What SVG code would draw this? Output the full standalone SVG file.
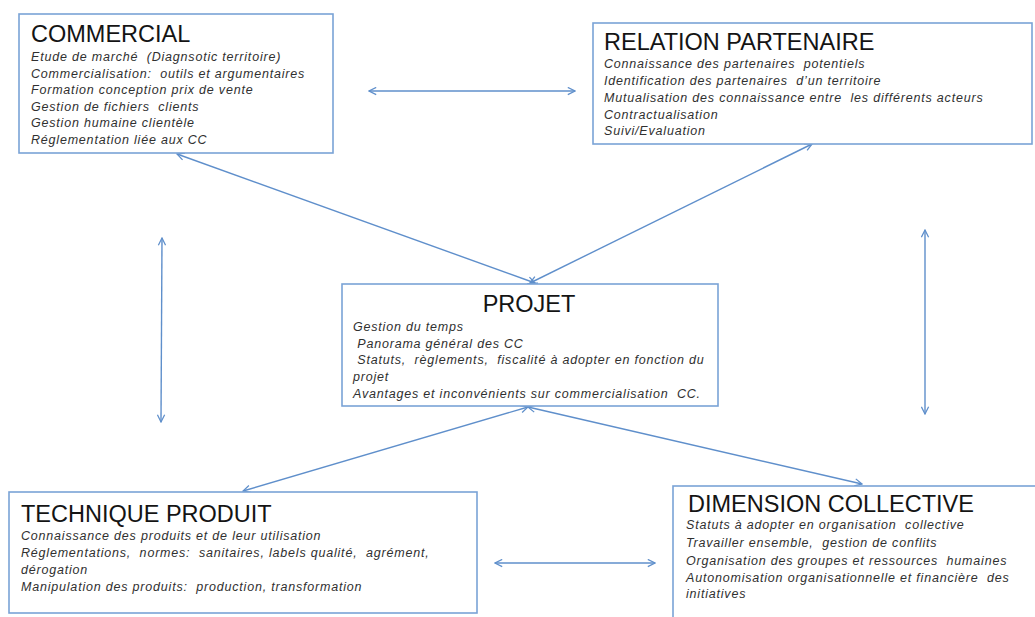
<svg xmlns="http://www.w3.org/2000/svg" width="1035" height="617" viewBox="0 0 1035 617">
<style>
.box{fill:#ffffff;stroke:#7aa3d6;stroke-width:1.6}
.title{font-family:"Liberation Sans",Arial,sans-serif;font-size:23.5px;fill:#141414}
.item{font-family:"Liberation Sans",Arial,sans-serif;font-size:12.5px;font-style:italic;fill:#303030;letter-spacing:0.8px;white-space:pre}
.conn{stroke:#5f8fcb;stroke-width:1.4;fill:none;marker-start:url(#ah);marker-end:url(#ah)}
</style>
<defs>
<marker id="ah" viewBox="0 0 10 10" refX="9" refY="5" markerWidth="9" markerHeight="9" markerUnits="userSpaceOnUse" orient="auto-start-reverse">
<path d="M1,1 L9,5 L1,9" fill="none" stroke="#5f8fcb" stroke-width="1.4"/>
</marker>
</defs>
<rect width="1035" height="617" fill="#ffffff"/>
<g id="connectors">
<line class="conn" x1="369" y1="91" x2="575" y2="91"/>
<line class="conn" x1="177" y1="154" x2="535" y2="283"/>
<line class="conn" x1="812" y1="144" x2="530" y2="283"/>
<line class="conn" x1="162" y1="238" x2="161" y2="422"/>
<line class="conn" x1="925" y1="230" x2="925" y2="414"/>
<line class="conn" x1="528" y1="407" x2="243" y2="491"/>
<line class="conn" x1="528" y1="407" x2="862" y2="484"/>
<line class="conn" x1="495" y1="563" x2="655" y2="563"/>
</g>
<g id="commercial">
<rect class="box" x="19" y="14" width="314" height="139"/>
<text class="title" x="31" y="42">COMMERCIAL</text>
<text class="item" x="31" y="61">Etude de marché  (Diagnsotic territoire)</text>
<text class="item" x="31" y="77.5">Commercialisation:  outils et argumentaires</text>
<text class="item" x="31" y="94">Formation conception prix de vente</text>
<text class="item" x="31" y="110.5">Gestion de fichiers  clients</text>
<text class="item" x="31" y="127">Gestion humaine clientèle</text>
<text class="item" x="31" y="143.5">Réglementation liée aux CC</text>
</g>
<g id="relation-partenaire">
<rect class="box" x="593" y="23" width="439" height="121"/>
<text class="title" x="604" y="50">RELATION PARTENAIRE</text>
<text class="item" x="604" y="68">Connaissance des partenaires  potentiels</text>
<text class="item" x="604" y="85">Identification des partenaires  d’un territoire</text>
<text class="item" x="604" y="102">Mutualisation des connaissance entre  les différents acteurs</text>
<text class="item" x="604" y="119">Contractualisation</text>
<text class="item" x="604" y="135">Suivi/Evaluation</text>
</g>
<g id="projet">
<rect class="box" x="342" y="284" width="376" height="122"/>
<text class="title" x="529" y="312" text-anchor="middle">PROJET</text>
<text class="item" x="353" y="331">Gestion du temps</text>
<text class="item" x="353" y="347.5"> Panorama général des CC</text>
<text class="item" x="353" y="364"> Statuts,  règlements,  fiscalité à adopter en fonction du</text>
<text class="item" x="353" y="381">projet</text>
<text class="item" x="353" y="398">Avantages et inconvénients sur commercialisation  CC.</text>
</g>
<g id="technique-produit">
<rect class="box" x="9" y="492" width="468" height="121"/>
<text class="title" x="21" y="522">TECHNIQUE PRODUIT</text>
<text class="item" x="21" y="539.5">Connaissance des produits et de leur utilisation</text>
<text class="item" x="21" y="556.5">Réglementations,  normes:  sanitaires, labels qualité,  agrément,</text>
<text class="item" x="21" y="573.5">dérogation</text>
<text class="item" x="21" y="590.5">Manipulation des produits:  production, transformation</text>
</g>
<g id="dimension-collective">
<rect class="box" x="673" y="486" width="380" height="150"/>
<text class="title" x="688" y="512">DIMENSION COLLECTIVE</text>
<text class="item" x="686" y="529">Statuts à adopter en organisation  collective</text>
<text class="item" x="686" y="547">Travailler ensemble,  gestion de conflits</text>
<text class="item" x="686" y="564.5">Organisation des groupes et ressources  humaines</text>
<text class="item" x="686" y="582">Autonomisation organisationnelle et financière  des</text>
<text class="item" x="686" y="598">initiatives</text>
</g>
</svg>
